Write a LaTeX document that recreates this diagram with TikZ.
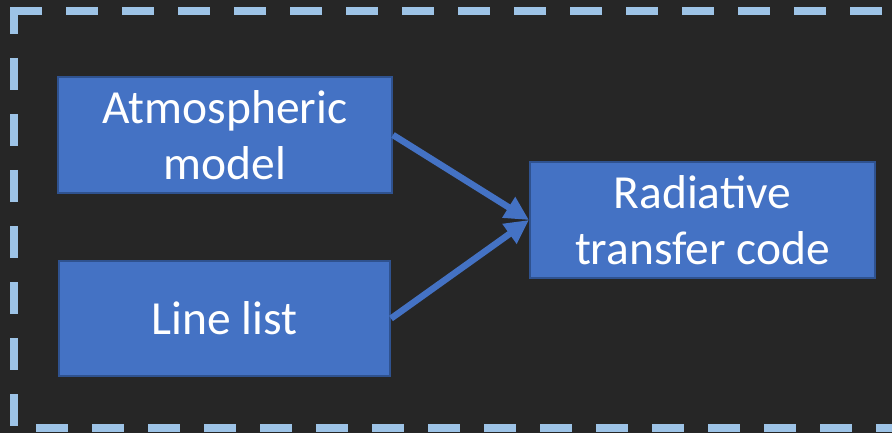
\documentclass[tikz,border=0pt]{standalone}
\usepackage{fontspec}
\setmainfont{Carlito}
\usetikzlibrary{arrows.meta}
\definecolor{bgdark}{HTML}{262626}
\definecolor{framelight}{HTML}{9DC3E6}
\definecolor{boxfill}{HTML}{4472C4}
\definecolor{boxedge}{HTML}{2F528F}
\tikzset{
  block/.style={draw=boxedge, line width=2pt, fill=boxfill, text=white,
    align=center, inner sep=0pt,
    font=\fontsize{47.5}{56}\selectfont},
  flow/.style={draw=boxfill, line width=6.5pt,
    -{Triangle[length=24pt,width=23pt]}},
  frameline/.style={draw=framelight, line width=8pt,
    dash pattern=on 32pt off 24pt}
}
\begin{document}
\begin{tikzpicture}[x=1pt,y=-1pt]
  \useasboundingbox (0,0) rectangle (892,433);
  \fill[bgdark] (0,0) rectangle (892,433);
  \begin{scope}
    \clip (0,0) rectangle (892,433);
    % dashed frame (runs off the right and bottom edges)
    \coordinate (ftl) at (14,11);
    \coordinate (ftr) at (900,11);
    \coordinate (fbl) at (14,428);
    \coordinate (fbr) at (900,428);
    \draw[frameline] (10,11) -- (ftr);
    \draw[frameline, dash phase=9pt] (ftl) -- (fbl);
    \draw[frameline, dash phase=34pt] (fbl) -- (fbr);
  \end{scope}

  \node[block, minimum width=334pt, minimum height=116pt] (atm) at (225,135) {Atmospheric\\model};
  \node[block, minimum width=331pt, minimum height=115pt] (lines) at (224.5,318.5) {Line list};
  \node[block, minimum width=345pt, minimum height=116pt] (rtc) at (702.5,220) {Radiative\\transfer code};

  \draw[flow] (atm.east) -- (rtc.west);
  \draw[flow] (lines.east) -- (rtc.west);
\end{tikzpicture}
\end{document}
